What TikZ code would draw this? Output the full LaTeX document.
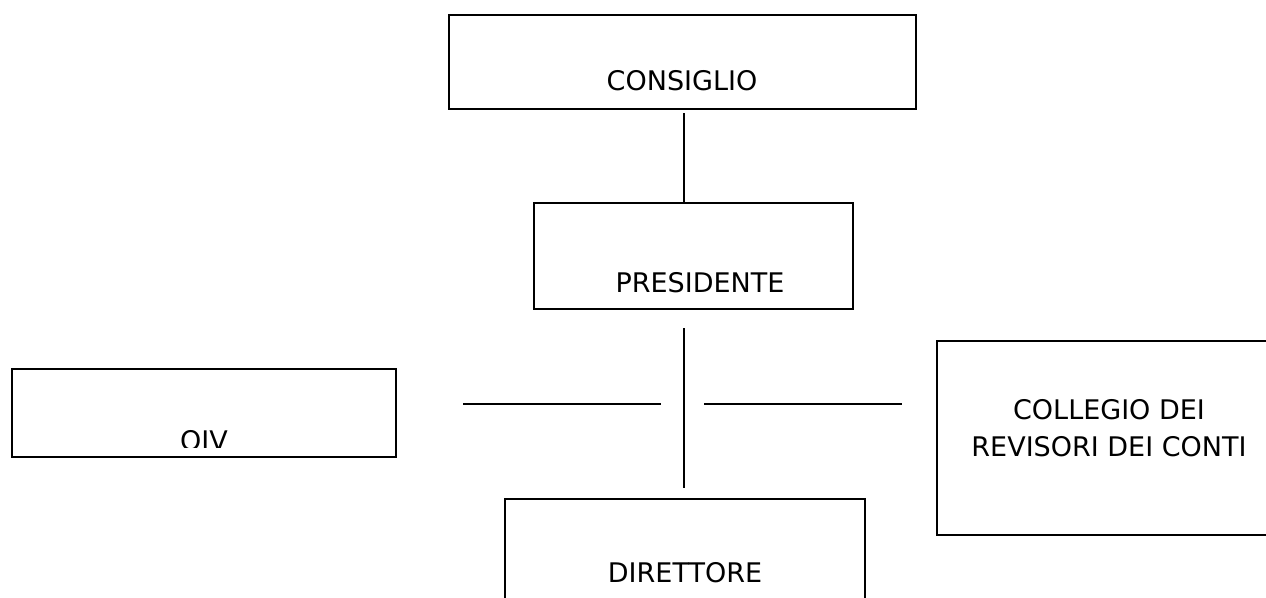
\documentclass[tikz,border=0pt]{standalone}
\usepackage{fontspec}
\setmainfont{DejaVu Sans}
\begin{document}
\begin{tikzpicture}%
	[x=1pt, y=-1pt,
	orgbox/.style={draw=black, line width=1.5pt, inner sep=0pt},
	boxtext/.style={anchor=base, inner sep=0pt, align=center, font=\fontsize{27}{37}\selectfont},
	link/.style={draw=black, line width=1.8pt}]
%
\useasboundingbox (0,0) rectangle (1266,597);
%%
%% Drawing the boxes
%%
\node[orgbox, minimum width=467pt, minimum height=94pt] (consiglio) at (682.5,62) {};
\node[orgbox, minimum width=319pt, minimum height=106pt] (presidente) at (693.5,256) {};
\node[orgbox, minimum width=384pt, minimum height=88pt] (oiv) at (204,413) {};
\node[orgbox, minimum width=340pt, minimum height=194pt] (collegio) at (1107,438) {};
\node[orgbox, minimum width=360pt, minimum height=130pt] (direttore) at (685,564) {};
%%
%% Texts
%%
\node[boxtext] (consigliotext) at (682,90) {CONSIGLIO};
\node[boxtext] (presidentetext) at (700,292) {PRESIDENTE};
\begin{scope}
\clip (oiv.north west) rectangle (396,447);
\node[boxtext] (oivtext) at (204,450) {OIV};
\end{scope}
\node[boxtext] (collegiotext) at (1109,456) {COLLEGIO DEI\\REVISORI DEI CONTI};
\node[boxtext] (direttoretext) at (685,582) {DIRETTORE};
%%
%% Drawing the lines
%%
\coordinate (uptop) at (684,113);
\coordinate (midtop) at (684,328);
\coordinate (midbottom) at (684,488);
\coordinate (leftstart) at (463,404);
\coordinate (leftend) at (661,404);
\coordinate (rightstart) at (704,404);
\coordinate (rightend) at (902,404);
\draw[link] (uptop) -- (uptop |- presidente.north);
\draw[link] (midtop) -- (midbottom);
\draw[link] (leftstart) -- (leftend);
\draw[link] (rightstart) -- (rightend);
\end{tikzpicture}
\end{document}
